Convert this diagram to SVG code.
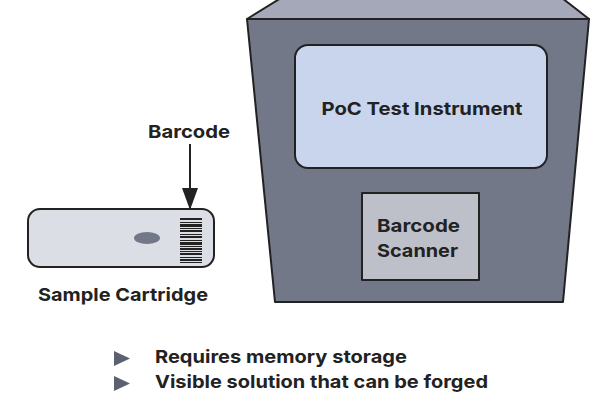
<svg xmlns="http://www.w3.org/2000/svg" width="600" height="400" viewBox="0 0 600 400">
<defs>
<style>
.lbl{font-family:Inter,Roboto,"Liberation Sans",sans-serif;font-weight:bold;fill:#222;font-size:18px;}
.edge{stroke:#222;stroke-width:2;stroke-linejoin:round;}
</style>
<marker id="ah" markerWidth="22" markerHeight="16" refX="21" refY="8" orient="auto" markerUnits="userSpaceOnUse" viewBox="0 0 22 16">
<path d="M0,0 L22,8 L0,16 Z" fill="#222"/>
</marker>
</defs>
<rect width="600" height="400" fill="#fff"/>
<g id="instrument">
<polygon points="247,19 281,-2 562,-2 589,19" fill="#a4a8b8" class="edge"/>
<polygon points="247,19 589,19 563,302 275,302" fill="#737889" class="edge"/>
</g>
<g id="screen">
<rect x="295" y="45" width="252" height="123" rx="13" fill="#c9d5ec" class="edge"/>
<text class="lbl" x="422" y="115" text-anchor="middle" textLength="201" lengthAdjust="spacingAndGlyphs">PoC Test Instrument</text>
</g>
<g id="scanner">
<rect x="362" y="193" width="117" height="87" fill="#bec0c9" class="edge"/>
<text class="lbl" x="418.5" y="232" text-anchor="middle" textLength="83" lengthAdjust="spacingAndGlyphs">Barcode</text>
<text class="lbl" x="417.5" y="257" text-anchor="middle" textLength="81" lengthAdjust="spacingAndGlyphs">Scanner</text>
</g>
<g id="cartridge">
<rect x="28" y="209" width="186" height="58" rx="12" fill="#dcdee6" class="edge"/>
<ellipse cx="147" cy="238" rx="13" ry="6" fill="#737889"/>
<g fill="#222">
<rect x="180" y="218" width="22" height="2"/>
<rect x="180" y="222" width="22" height="1"/>
<rect x="180" y="224" width="22" height="3"/>
<rect x="180" y="228" width="22" height="1"/>
<rect x="180" y="230" width="22" height="2"/>
<rect x="180" y="234" width="22" height="1"/>
<rect x="180" y="236" width="22" height="2"/>
<rect x="180" y="240" width="22" height="1"/>
<rect x="180" y="242" width="22" height="3"/>
<rect x="180" y="246" width="22" height="1"/>
<rect x="180" y="248" width="22" height="2"/>
<rect x="180" y="251" width="22" height="1"/>
<rect x="180" y="253" width="22" height="2"/>
<rect x="180" y="257" width="22" height="1"/>
<rect x="180" y="259" width="22" height="2"/>
<rect x="180" y="262" width="22" height="1"/>
</g>
<text class="lbl" x="123" y="301" text-anchor="middle" textLength="170" lengthAdjust="spacingAndGlyphs">Sample Cartridge</text>
</g>
<g id="barcode-label">
<text class="lbl" x="189" y="138" text-anchor="middle" textLength="82" lengthAdjust="spacingAndGlyphs">Barcode</text>
</g>
<g id="connectors">
<line x1="190" y1="144" x2="190" y2="209" stroke="#222" stroke-width="2" marker-end="url(#ah)"/>
</g>
<g id="bullets">
<polygon points="114,351 130,358.5 114,366" fill="#5c6172"/>
<text class="lbl" x="155" y="363" textLength="252" lengthAdjust="spacingAndGlyphs">Requires memory storage</text>
<polygon points="114,376 130,383.5 114,391" fill="#5c6172"/>
<text class="lbl" x="155" y="388" textLength="333" lengthAdjust="spacingAndGlyphs">Visible solution that can be forged</text>
</g>
</svg>
